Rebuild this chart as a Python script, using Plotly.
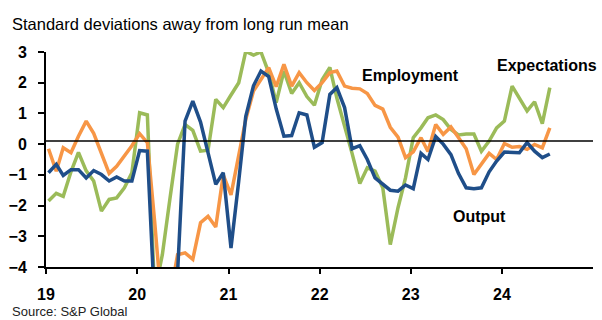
import pandas as pd
import plotly.graph_objects as go

# Monthly survey readings, Jan 2019 - Jul 2024 (points sit ~10 days into each month)
months = pd.date_range("2019-01-01", "2024-07-01", freq="MS") + pd.Timedelta(days=10)

output = [
    -0.93, -0.66, -1.02, -0.83, -0.83, -1.10, -0.86, -0.99, -1.20, -1.07, -1.20, -1.20,
    -0.21, -0.23, -5.20, -6.00, -5.00, -4.20, 0.75, 1.40, 0.72, -0.32, -1.31, -0.93,
    -3.38, -1.20, 0.90, 1.90, 2.38, 2.20, 1.15, 0.26, 0.28, 1.02, 0.95, -0.10,
    0.05, 1.62, 1.84, 1.19, -0.15, -0.05, -0.50, -1.10, -1.30, -1.50, -1.53, -1.33,
    -1.45, -0.30, -0.50, 0.25, 0.00, -0.34, -0.95, -1.42, -1.45, -1.42, -0.90, -0.55,
    -0.26, -0.26, -0.28, 0.05, -0.23, -0.44, -0.32,
]

employment = [
    -0.15, -0.88, -0.12, -0.28, 0.26, 0.75, 0.35, -0.30, -0.95, -0.72, -0.40, -0.05,
    0.34, 0.05, -2.50, -5.50, -5.00, -3.60, -3.54, -3.75, -2.56, -2.35, -2.70, -1.00,
    -1.65, -0.40, 0.80, 1.73, 2.10, 2.49, 1.87, 2.60, 1.89, 2.33, 2.00, 1.75,
    2.00, 2.33, 2.38, 1.89, 1.82, 1.80, 1.65, 1.26, 1.14, 0.55, 0.23, -0.44,
    -0.25, 0.21, -0.24, 0.64, 0.32, 0.56, 0.22, -0.15, -0.99, -0.65, -0.30, -0.50,
    0.02, -0.10, -0.08, -0.17, -0.01, -0.12, 0.53,
]

expectations = [
    -1.85, -1.60, -1.70, -0.90, -0.27, -0.87, -1.20, -2.18, -1.80, -1.75, -1.42, -0.93,
    1.02, 0.95, -4.84, -3.60, -1.80, 0.00, 0.64, 0.45, -0.23, -0.20, 1.46, 1.19,
    1.60, 2.00, 3.02, 2.90, 3.00, 2.33, 1.35, 2.38, 1.65, 2.00, 1.55, 1.27,
    2.10, 2.50, 1.50, 0.60, -0.30, -1.28, -0.77, -0.88, -1.42, -3.27, -2.07, -1.10,
    0.21, 0.53, 0.86, 0.95, 0.80, 0.48, 0.30, 0.33, 0.33, -0.23, 0.10, 0.53,
    0.75, 1.89, 1.51, 1.08, 1.38, 0.67, 1.84,
]

series = [
    ("Expectations", expectations, "#9BBB59"),
    ("Employment", employment, "#F79646"),
    ("Output", output, "#1F4E89"),
]

# Series name labels: (text, horizontal position as fraction of plot width, value)
labels = [
    ("Employment", 0.667, 2.24),
    ("Expectations", 0.915, 2.55),
    ("Output", 0.792, -2.36),
]

FONT = "Liberation Sans, Arial, sans-serif"

fig = go.Figure()
for name, vals, color in series:
    fig.add_trace(go.Scatter(
        x=months, y=vals, name=name, mode="lines",
        line=dict(color=color, width=3.5),
    ))

# Reference line near zero
fig.add_shape(type="line", xref="paper", x0=0, x1=1, yref="y", y0=0.1, y1=0.1,
              line=dict(color="black", width=1.5), layer="above")

for text, x, y in labels:
    fig.add_annotation(xref="paper", yref="y", x=x, y=y, text=text, showarrow=False,
                       font=dict(family=FONT, size=16, color="black", weight="bold"),
                       xanchor="center", yanchor="middle")

fig.add_annotation(xref="paper", yref="paper", x=-0.066, y=1.132,
                   text="Standard deviations away from long run mean",
                   showarrow=False, xanchor="left", yanchor="middle",
                   font=dict(family=FONT, size=16.5, color="black"))
fig.add_annotation(xref="paper", yref="paper", x=-0.066, y=-0.205,
                   text="Source: S&P Global", showarrow=False,
                   xanchor="left", yanchor="middle",
                   font=dict(family=FONT, size=13, color="#222222"))

fig.update_layout(
    width=602, height=320,
    margin=dict(l=43, r=9, t=52, b=53),
    paper_bgcolor="white", plot_bgcolor="white",
    showlegend=False,
    font=dict(family=FONT, color="black"),
)
fig.update_xaxes(
    type="date", range=["2019-01-01", "2024-12-31"],
    tick0="2019-01-01", dtick="M12", tickformat="%y",
    ticks="outside", ticklen=5, tickwidth=2, tickcolor="black",
    showline=True, linewidth=2, linecolor="black",
    showgrid=False, zeroline=False, ticklabelstandoff=7,
    tickfont=dict(family=FONT, size=16, color="black", weight="bold"),
)
fig.update_yaxes(
    range=[-4, 3], dtick=1, tick0=0,
    ticks="outside", ticklen=6, tickwidth=2, tickcolor="black",
    showline=True, linewidth=2, linecolor="black",
    showgrid=False, zeroline=False, ticklabelstandoff=8,
    tickfont=dict(family=FONT, size=16, color="black", weight="bold"),
)

fig.write_html("out.html")
